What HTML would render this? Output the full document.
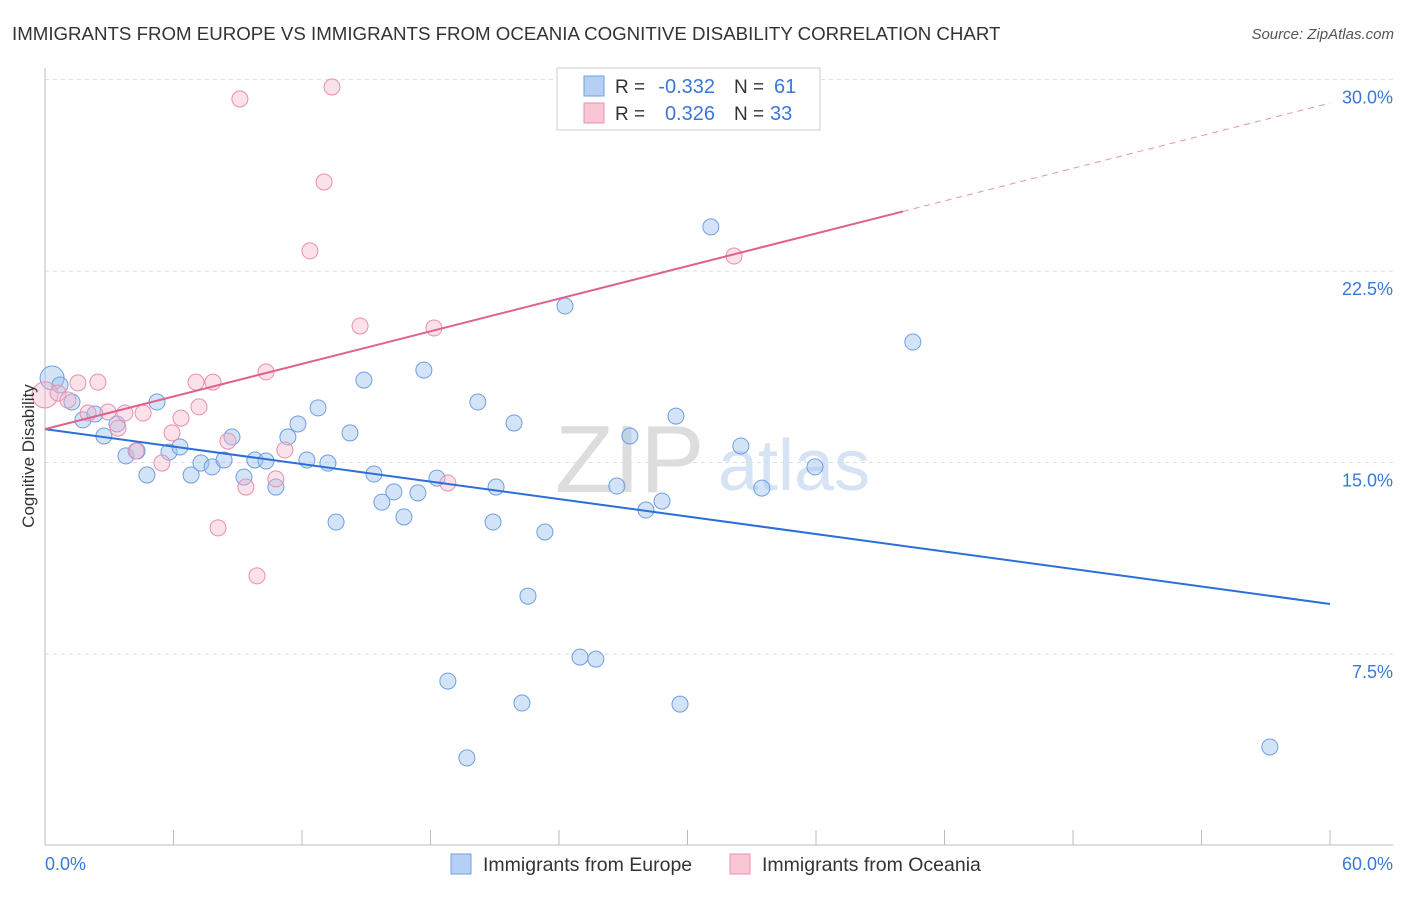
<!DOCTYPE html>
<html><head><meta charset="utf-8"><style>
body{margin:0;background:#fff;font-family:"Liberation Sans",sans-serif;}
svg text{font-family:"Liberation Sans",sans-serif;}
</style></head><body>
<svg id="chart" width="1406" height="892">
<text x="12" y="40" font-size="18.7" fill="#333">IMMIGRANTS FROM EUROPE VS IMMIGRANTS FROM OCEANIA COGNITIVE DISABILITY CORRELATION CHART</text>
<text x="1394" y="39" font-size="15" fill="#555" text-anchor="end" font-style="italic">Source: ZipAtlas.com</text>
<text x="555" y="492" font-size="96" fill="#ddd" font-family="Liberation Serif">ZIP</text>
<text x="718" y="490" font-size="72" fill="#d5e3f5">atlas</text>
<g id="grid"></g><g id="marks"></g>
<text transform="translate(34,456) rotate(-90)" font-size="17" fill="#333" text-anchor="middle">Cognitive Disability</text>
<text x="45" y="870" font-size="18" fill="#3a78d8">0.0%</text>
<text x="1393" y="870" font-size="18" fill="#3a78d8" text-anchor="end">60.0%</text>
<g>
<rect x="557" y="68" width="263" height="62" fill="#fff" stroke="#ccc"/>
<rect x="584" y="76" width="20" height="20" fill="#b5d0f4" stroke="#6f9fe0"/>
<rect x="584" y="103" width="20" height="20" fill="#f9c6d6" stroke="#e890b0"/>
<text x="615" y="93" font-size="19" fill="#333">R =</text>
<text x="715" y="93" font-size="20" fill="#3a78d8" text-anchor="end">-0.332</text>
<text x="734" y="93" font-size="19" fill="#333">N =</text>
<text x="774" y="93" font-size="20" fill="#3a78d8">61</text>
<text x="615" y="120" font-size="19" fill="#333">R =</text>
<text x="715" y="120" font-size="20" fill="#3a78d8" text-anchor="end">0.326</text>
<text x="734" y="120" font-size="19" fill="#333">N =</text>
<text x="770" y="120" font-size="20" fill="#3a78d8">33</text>
</g>
<g>
<rect x="451" y="854" width="20" height="20" fill="#b5d0f4" stroke="#6f9fe0"/>
<text x="483" y="871" font-size="19.5" fill="#333">Immigrants from Europe</text>
<rect x="730" y="854" width="20" height="20" fill="#f9c6d6" stroke="#e890b0"/>
<text x="762" y="871" font-size="19.5" fill="#333">Immigrants from Oceania</text>
</g>
</svg>
<script>
const yTicks=[7.5,15,22.5,30];
const yTickLabels=["7.5%","15.0%","22.5%","30.0%"];
const xTicks=[0,6,12,18,24,30,36,42,48,54,60];
const europeX=[0.33,0.70,1.26,1.77,2.33,2.75,3.36,3.78,4.30,4.76,5.23,5.79,6.30,6.82,7.28,7.80,8.36,8.73,9.29,9.80,10.32,10.78,11.34,11.81,12.23,12.75,13.21,13.59,14.24,14.89,15.36,15.73,16.29,16.76,17.41,17.69,18.30,18.81,19.70,20.21,21.06,20.92,21.90,22.27,22.55,23.34,24.28,24.98,25.72,26.70,27.31,28.06,28.81,29.46,29.65,31.09,32.49,33.47,35.95,40.52,57.19];
const europeY=[18.31,18.04,17.37,16.67,16.90,16.04,16.51,15.26,15.45,14.51,17.37,15.41,15.61,14.51,14.98,14.83,15.10,16.00,14.43,15.10,15.06,14.04,16.00,16.51,15.10,17.14,14.98,12.67,16.16,18.23,14.55,13.45,13.85,12.87,13.81,18.62,14.39,6.44,3.43,17.37,14.04,12.67,16.55,5.58,9.77,12.28,21.13,7.38,7.30,14.08,16.04,13.14,13.49,16.82,5.54,24.23,15.65,14.00,14.83,19.72,3.86];
const oceaniaX=[0,0.61,1.07,1.54,2.01,2.47,2.94,3.41,3.73,4.58,4.25,5.46,5.93,6.35,7.05,7.19,7.84,8.08,8.54,9.10,9.38,9.90,10.32,10.78,11.20,12.37,13.03,13.40,14.71,18.16,18.81,32.17];
const oceaniaY=[17.65,17.72,17.45,18.12,16.94,18.15,16.98,16.35,16.94,16.94,15.45,14.98,16.16,16.74,18.15,17.18,18.15,12.44,15.84,29.24,14.04,10.56,18.55,14.36,15.49,23.29,25.99,29.71,20.35,20.27,14.20,23.09];
const europeTrend=[16.31,9.46];
const oceaniaTrend=[16.31,29.08];
const NS="http://www.w3.org/2000/svg";
const sx=v=>45+v*21.417, sy=v=>845.5-v*25.53;
function mk(t,a,p){const e=document.createElementNS(NS,t);for(const k in a)e.setAttribute(k,a[k]);p.appendChild(e);return e;}
const g=document.getElementById('grid'),m=document.getElementById('marks');
yTicks.forEach((t,i)=>{
 const l=mk('line',{x1:45,x2:1393,y1:sy(t),y2:sy(t),stroke:'#ddd','stroke-dasharray':'4,4'},g);
 
 
 const tx=mk('text',{x:1393,y:sy(t)+24,'font-size':18,fill:'#3a78d8','text-anchor':'end'},g);
 tx.textContent=yTickLabels[i];
 
 
});
const ax=mk('line',{x1:45,x2:1393,y1:845,y2:845,stroke:'#bbb'},g);


const ay=mk('line',{x1:45,x2:45,y1:68,y2:845,stroke:'#bbb'},g);


xTicks.forEach(t=>{
 const l=mk('line',{x1:sx(t),x2:sx(t),y1:830,y2:845,stroke:'#bbb'},g);
 
 
});
europeX.forEach((x,i)=>{
 const big=i<1;
 const c=mk('circle',{cx:sx(x),cy:sy(europeY[i]),r:big?12:8,fill:'rgba(160,196,240,0.45)',stroke:'#6f9fe0','stroke-width':1},m);
 
 
});
oceaniaX.forEach((x,i)=>{
 const big=i<1;
 const c=mk('circle',{cx:sx(x),cy:sy(oceaniaY[i]),r:big?13:8,fill:'rgba(245,180,200,0.4)',stroke:'#e890b0','stroke-width':1},m);
 
 
});
const bl=mk('line',{x1:sx(0),y1:sy(europeTrend[0]),x2:sx(60),y2:sy(europeTrend[1]),stroke:'#2c6fd8','stroke-width':2},m);


const xe=40.06, ye=oceaniaTrend[0]+(oceaniaTrend[1]-oceaniaTrend[0])*xe/60;
const pl=mk('line',{x1:sx(0),y1:sy(oceaniaTrend[0]),x2:sx(xe),y2:sy(ye),stroke:'#e0608e','stroke-width':2},m);


const pd=mk('line',{x1:sx(xe),y1:sy(ye),x2:sx(60),y2:sy(oceaniaTrend[1]),stroke:'#e890b0','stroke-width':1,'stroke-dasharray':'6,5'},m);


</script>
</body></html>
